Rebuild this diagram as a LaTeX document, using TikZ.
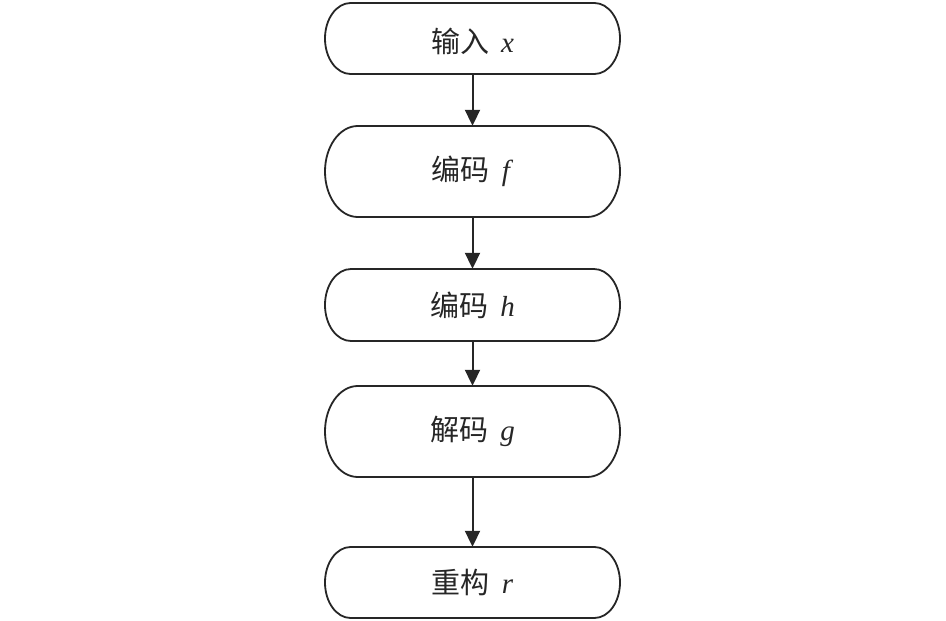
\documentclass[tikz,border=0pt]{standalone}
\usepackage{fontspec}
\setmainfont{Liberation Serif}
\newfontfamily\cjk{Noto Sans CJK SC}
\usetikzlibrary{arrows.meta}
\newcommand\pillbox[5][0pt]{% shift, name, top, bottom, text
  \pgfmathsetmacro\pbh{#4-#3}
  \pgfmathsetmacro\pbc{(#3+#4)/2}
  \pgfmathsetmacro\pbr{0.36*\pbh}
  \pgfmathsetmacro\pby{\pbh/2}
  \node[stepnode, minimum height=\pbh pt] (#2) at (472.5,\pbc) {};
  \node[steptext, yshift=#1] at (#2.center) {#5};
  \draw[pilline] (325+\pbr,#3) -- (620-\pbr,#3)
    arc[start angle=-90, end angle=90, x radius=\pbr, y radius=\pby]
    -- (325+\pbr,#4)
    arc[start angle=90, end angle=270, x radius=\pbr, y radius=\pby] -- cycle;
}
\begin{document}
\begin{tikzpicture}[x=1pt,y=-1pt,
  stepnode/.style={rectangle, draw=none, minimum width=295pt, inner sep=0pt},
  steptext/.style={inner sep=0pt, font=\fontsize{29}{33}\selectfont, text=black!85},
  pilline/.style={line width=1.8pt, draw=black!85},
  flow/.style={line width=2pt, draw=black!85, -{Triangle[length=16pt,width=15pt]}}]
\useasboundingbox (0,0) rectangle (946,621);
\pillbox[-3pt]{n1}{3}{74}{{\cjk 输入}\, \textit{x}}
\pillbox{n2}{126}{217}{{\cjk 编码}\, \textit{f}}
\pillbox{n3}{269}{341}{{\cjk 编码}\, \textit{h}}
\pillbox{n4}{386}{477}{{\cjk 解码}\, \textit{g}}
\pillbox{n5}{547}{618}{{\cjk 重构}\, \textit{r}}
\draw[flow] (n1.south) -- (n2.north);
\draw[flow] (n2.south) -- (n3.north);
\draw[flow] (n3.south) -- (n4.north);
\draw[flow] (n4.south) -- (n5.north);
\end{tikzpicture}
\end{document}
